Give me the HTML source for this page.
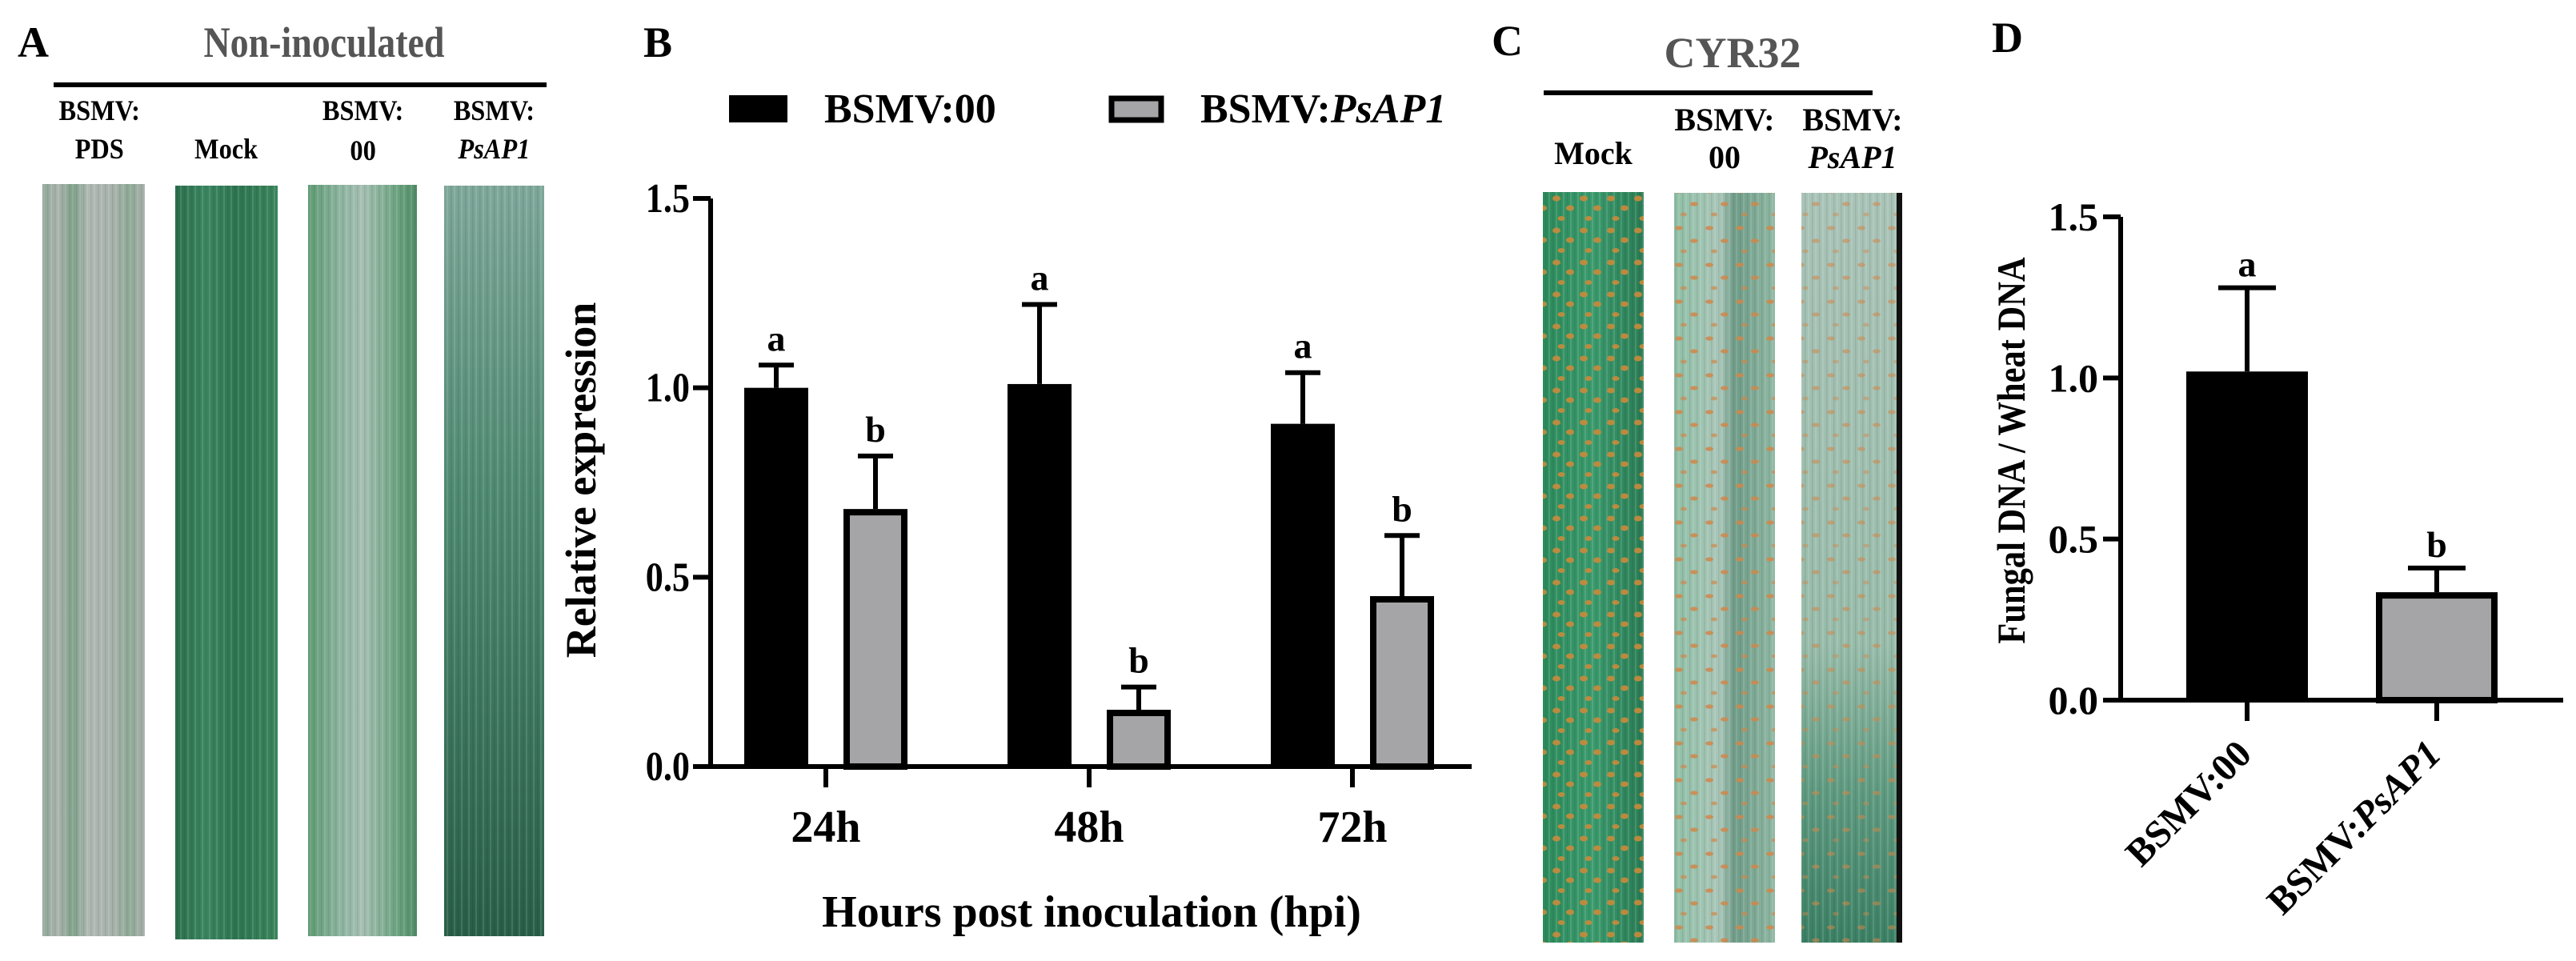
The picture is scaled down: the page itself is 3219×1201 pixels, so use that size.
<!DOCTYPE html>
<html><head><meta charset="utf-8"><style>
html,body{margin:0;padding:0;background:#fff;}
svg{display:block;font-family:"Liberation Serif",serif;font-weight:bold;}
</style></head><body>
<svg id="fig" width="3219" height="1201" viewBox="0 0 3219 1201" xmlns="http://www.w3.org/2000/svg">
<defs>
<linearGradient id="gPDS" x1="0" x2="1" y1="0" y2="0">
<stop offset="0" stop-color="#8fa898"/><stop offset="0.15" stop-color="#aab4ae"/><stop offset="0.3" stop-color="#7fa28a"/><stop offset="0.45" stop-color="#b0b8b3"/><stop offset="0.7" stop-color="#a7b2ab"/><stop offset="0.85" stop-color="#8ea996"/><stop offset="1" stop-color="#a9b1ac"/></linearGradient>
<linearGradient id="gMock" x1="0" x2="1"><stop offset="0" stop-color="#2a6e4c"/><stop offset="0.3" stop-color="#3a8560"/><stop offset="0.6" stop-color="#2d7550"/><stop offset="1" stop-color="#3a845c"/></linearGradient>
<linearGradient id="g00" x1="0" x2="1"><stop offset="0" stop-color="#5f9a73"/><stop offset="0.3" stop-color="#8db5a0"/><stop offset="0.5" stop-color="#a5bfb3"/><stop offset="0.8" stop-color="#6fa583"/><stop offset="1" stop-color="#4f8d66"/></linearGradient>
<linearGradient id="gAP" x1="0" x2="0" y1="0" y2="1"><stop offset="0" stop-color="#7ea79a"/><stop offset="0.4" stop-color="#4f8a72"/><stop offset="1" stop-color="#285e47"/></linearGradient>
<linearGradient id="gCm" x1="0" x2="1"><stop offset="0" stop-color="#2c8a5c"/><stop offset="0.5" stop-color="#3a9a6c"/><stop offset="1" stop-color="#2a7c55"/></linearGradient>
<linearGradient id="gC0" x1="0" x2="1"><stop offset="0" stop-color="#8fbfa6"/><stop offset="0.45" stop-color="#a9c6b8"/><stop offset="0.6" stop-color="#6f9c88"/><stop offset="1" stop-color="#8fb8a3"/></linearGradient>
<linearGradient id="gCa" x1="0" x2="0" y1="0" y2="1"><stop offset="0" stop-color="#a9c3b7"/><stop offset="0.6" stop-color="#98bcaa"/><stop offset="0.8" stop-color="#5e9a80"/><stop offset="1" stop-color="#3b8064"/></linearGradient>
<pattern id="stripes" width="9" height="20" patternUnits="userSpaceOnUse"><rect width="2" height="20" fill="#ffffff" opacity="0.12"/><rect x="5" width="1.5" height="20" fill="#000" opacity="0.08"/></pattern>
<pattern id="spots" width="34" height="40" patternUnits="userSpaceOnUse"><ellipse cx="7" cy="8" rx="5" ry="3.5" fill="#c98a3a"/><ellipse cx="24" cy="20" rx="5" ry="3.5" fill="#c98a3a"/><ellipse cx="13" cy="33" rx="4.5" ry="3" fill="#c98a3a"/></pattern>
<pattern id="spots2" width="38" height="46" patternUnits="userSpaceOnUse"><ellipse cx="8" cy="9" rx="5" ry="2.6" fill="#d0874a"/><ellipse cx="27" cy="25" rx="5" ry="2.6" fill="#d0874a"/><ellipse cx="14" cy="38" rx="4" ry="2.4" fill="#d0874a" opacity="0.8"/></pattern>
</defs>

<!-- Panel A -->
<text x="22" y="71" font-size="54">A</text>
<text x="405" y="71" font-size="54" text-anchor="middle" fill="#555" transform="translate(405 0) scale(0.85 1) translate(-405 0)">Non-inoculated</text>
<rect x="67" y="103" width="616" height="6" fill="#000"/>
<g font-size="36" text-anchor="middle" transform="scale(0.9 1)">
<text x="138" y="150">BSMV:</text>
<text x="138" y="198">PDS</text>
<text x="314" y="198">Mock</text>
<text x="504" y="150">BSMV:</text>
<text x="504" y="200">00</text>
<text x="686" y="150">BSMV:</text>
<text x="686" y="198" font-style="italic">PsAP1</text>
</g>
<g><rect x="53" y="230" width="128" height="940" fill="url(#gPDS)"/><rect x="53" y="230" width="128" height="940" fill="url(#stripes)"/></g>
<g><rect x="219" y="232" width="128" height="942" fill="url(#gMock)"/><rect x="219" y="232" width="128" height="942" fill="url(#stripes)"/></g>
<g><rect x="385" y="231" width="136" height="939" fill="url(#g00)"/><rect x="385" y="231" width="136" height="939" fill="url(#stripes)"/></g>
<g><rect x="555" y="232" width="125" height="938" fill="url(#gAP)"/><rect x="555" y="232" width="125" height="938" fill="url(#stripes)"/></g>

<!-- Panel B -->
<text x="804" y="71" font-size="54">B</text>
<rect x="911" y="119" width="73" height="34" fill="#000"/>
<text x="1030" y="153" font-size="52">BSMV:00</text>
<rect x="1389" y="123" width="62" height="27" fill="#a5a5a8" stroke="#000" stroke-width="7"/>
<text x="1500" y="153" font-size="52">BSMV:<tspan font-style="italic">PsAP1</tspan></text>
<g id="chartB"></g>
<text transform="translate(744 600) rotate(-90)" font-size="54" text-anchor="middle">Relative expression</text>
<text x="1364" y="1158" font-size="56" text-anchor="middle">Hours post inoculation (hpi)</text>

<!-- Panel C -->
<text x="1864" y="69" font-size="54">C</text>
<text x="2165" y="84" font-size="54" text-anchor="middle" fill="#555">CYR32</text>
<rect x="1929" y="113" width="411" height="6" fill="#000"/>
<g font-size="40" text-anchor="middle">
<text x="1991" y="205">Mock</text>
<text x="2155" y="163">BSMV:</text>
<text x="2155" y="210">00</text>
<text x="2315" y="163">BSMV:</text>
<text x="2315" y="210" font-style="italic">PsAP1</text>
</g>
<g><rect x="1928" y="240" width="126" height="938" fill="url(#gCm)"/><rect x="1928" y="240" width="126" height="938" fill="url(#stripes)"/><rect x="1928" y="240" width="126" height="938" fill="url(#spots)" opacity="0.9"/></g>
<g><rect x="2092" y="241" width="126" height="937" fill="url(#gC0)"/><rect x="2092" y="241" width="126" height="937" fill="url(#stripes)"/><rect x="2092" y="241" width="126" height="937" fill="url(#spots2)" opacity="0.85"/></g>
<g><rect x="2251" y="241" width="126" height="937" fill="url(#gCa)"/><rect x="2251" y="241" width="126" height="937" fill="url(#stripes)"/><rect x="2251" y="241" width="126" height="937" fill="url(#spots2)" opacity="0.55"/><rect x="2370" y="241" width="7" height="937" fill="#111"/></g>

<!-- Panel D -->
<text x="2489" y="65" font-size="54">D</text>
<g id="chartD"></g>
<text transform="translate(2530 563) rotate(-90) scale(0.85 1)" font-size="50" text-anchor="middle">Fungal DNA / Wheat DNA</text>
</svg>
<script>
// Panel B data
const bCategories = ["24h", "48h", "72h"];
const bSeries00 = [1.00, 1.01, 0.905];
const bSeries00Err = [0.06, 0.21, 0.135];
const bSeriesAP = [0.68, 0.15, 0.45];
const bSeriesAPErr = [0.14, 0.06, 0.16];
const bLetters00 = ["a", "a", "a"];
const bLettersAP = ["b", "b", "b"];
const bTicks = ["0.0", "0.5", "1.0", "1.5"];
// Panel D data
const dCategories = ["BSMV:00", "BSMV:PsAP1"];
const dValues = [1.02, 0.335];
const dErr = [0.26, 0.075];
const dLetters = ["a", "b"];
const dTicks = ["0.0", "0.5", "1.0", "1.5"];

const NS = "http://www.w3.org/2000/svg";
function mk(parent, tag, attrs, text) {
  const e = document.createElementNS(NS, tag);
  for (const k in attrs) e.setAttribute(k, attrs[k]);
  if (text !== undefined) e.textContent = text;
  parent.appendChild(e);
  return e;
}

// ---- Chart B ----
(function () {
  const g = document.getElementById("chartB");
  const x0 = 888, x1 = 1839, yTop = 248, yBot = 958, vmax = 1.5;
  const y = v => yBot - (v / vmax) * (yBot - yTop);
  const groupCenter = i => 1032 + i * 329;
  const bw = 80, off = 62;
  let ax = mk(g, "line", {x1: x0, y1: yTop, x2: x0, y2: yBot + 3, stroke: "#000", "stroke-width": 6});
  
  
  let xa = mk(g, "line", {x1: x0 - 3, y1: yBot, x2: x1, y2: yBot, stroke: "#000", "stroke-width": 6});
  
  
  bTicks.forEach(t => {
    const yy = y(parseFloat(t));
    const tk = mk(g, "line", {x1: x0 - 22, y1: yy, x2: x0, y2: yy, stroke: "#000", "stroke-width": 6});
    
    
    const tl = mk(g, "text", {x: x0 - 26, y: yy + 17, "font-size": 52, "text-anchor": "end", transform: `translate(${x0 - 26} 0) scale(0.85 1) translate(${-(x0 - 26)} 0)`}, t);
    
    
  });
  bCategories.forEach((c, i) => {
    const cx = groupCenter(i);
    const tk = mk(g, "line", {x1: cx, y1: yBot, x2: cx, y2: yBot + 26, stroke: "#000", "stroke-width": 6});
    
    
    const tl = mk(g, "text", {x: cx, y: 1052, "font-size": 56, "text-anchor": "middle"}, c);
    
    
    const bx = cx - off - bw / 2;
    const v = bSeries00[i], e = bSeries00Err[i];
    const ey = y(v + e);
    mk(g, "line", {x1: bx + bw / 2, y1: y(v), x2: bx + bw / 2, y2: ey, stroke: "#000", "stroke-width": 6});
    mk(g, "line", {x1: bx + bw / 2 - 22, y1: ey, x2: bx + bw / 2 + 22, y2: ey, stroke: "#000", "stroke-width": 6});
    const b1 = mk(g, "rect", {x: bx, y: y(v), width: bw, height: yBot - y(v), fill: "#000"});
    
    
    const l1 = mk(g, "text", {x: bx + bw / 2, y: ey - 18, "font-size": 46, "text-anchor": "middle"}, bLetters00[i]);
    
    
    const gx = cx + off - bw / 2;
    const v2 = bSeriesAP[i], e2 = bSeriesAPErr[i];
    const ey2 = y(v2 + e2);
    mk(g, "line", {x1: gx + bw / 2, y1: y(v2), x2: gx + bw / 2, y2: ey2, stroke: "#000", "stroke-width": 6});
    mk(g, "line", {x1: gx + bw / 2 - 22, y1: ey2, x2: gx + bw / 2 + 22, y2: ey2, stroke: "#000", "stroke-width": 6});
    const b2 = mk(g, "rect", {x: gx + 4, y: y(v2) + 4, width: bw - 8, height: yBot - y(v2) - 4, fill: "#a5a5a8", stroke: "#000", "stroke-width": 8});
    
    
    const l2 = mk(g, "text", {x: gx + bw / 2, y: ey2 - 18, "font-size": 46, "text-anchor": "middle"}, bLettersAP[i]);
    
    
  });
})();

// ---- Chart D ----
(function () {
  const g = document.getElementById("chartD");
  const x0 = 2650, x1 = 3203, yTop = 271, yBot = 875, vmax = 1.5;
  const y = v => yBot - (v / vmax) * (yBot - yTop);
  const centers = i => 2808 + i * 237;
  const bw = 152;
  let ax = mk(g, "line", {x1: x0, y1: yTop, x2: x0, y2: yBot + 3, stroke: "#000", "stroke-width": 6});
  
  
  let xa = mk(g, "line", {x1: x0 - 3, y1: yBot, x2: x1, y2: yBot, stroke: "#000", "stroke-width": 6});
  
  
  dTicks.forEach(t => {
    const yy = y(parseFloat(t));
    const tk = mk(g, "line", {x1: x0 - 22, y1: yy, x2: x0, y2: yy, stroke: "#000", "stroke-width": 6});
    
    
    const tl = mk(g, "text", {x: x0 - 28, y: yy + 17, "font-size": 50, "text-anchor": "end"}, t);
    
    
  });
  dCategories.forEach((c, i) => {
    const cx = centers(i);
    const tk = mk(g, "line", {x1: cx, y1: yBot, x2: cx, y2: yBot + 26, stroke: "#000", "stroke-width": 6});
    
    
    const tl = mk(g, "text", {x: cx + 8, y: yBot + 70, "font-size": 48, "text-anchor": "end", transform: `rotate(-45 ${cx + 8} ${yBot + 70})`});
    
    
    const parts = c.split(":");
    mk(tl, "tspan", {}, parts[0] + ":");
    mk(tl, "tspan", {"font-style": i === 1 ? "italic" : "normal"}, parts[1]);
    const v = dValues[i], e = dErr[i];
    const ey = y(v + e);
    mk(g, "line", {x1: cx, y1: y(v), x2: cx, y2: ey, stroke: "#000", "stroke-width": 6});
    mk(g, "line", {x1: cx - 36, y1: ey, x2: cx + 36, y2: ey, stroke: "#000", "stroke-width": 6});
    let b;
    if (i === 0) b = mk(g, "rect", {x: cx - bw / 2, y: y(v), width: bw, height: yBot - y(v), fill: "#000"});
    else b = mk(g, "rect", {x: cx - bw / 2 + 4, y: y(v) + 4, width: bw - 8, height: yBot - y(v) - 4, fill: "#a5a5a8", stroke: "#000", "stroke-width": 8});
    
    
    const l = mk(g, "text", {x: cx, y: ey - 14, "font-size": 46, "text-anchor": "middle"}, dLetters[i]);
    
    
  });
})();
</script>
</body></html>
